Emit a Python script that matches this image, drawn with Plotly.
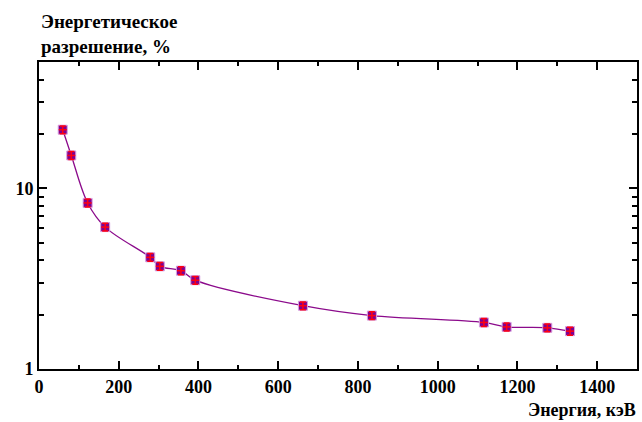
import plotly.graph_objects as go

energy_kev = [59.5, 81, 122, 166, 279, 303, 356, 392, 662, 835, 1116, 1173, 1275, 1332]
resolution_pct = [21.1, 15.2, 8.3, 6.1, 4.15, 3.70, 3.50, 3.10, 2.24, 1.975, 1.81, 1.71, 1.69, 1.62]

x_ticks = [0, 200, 400, 600, 800, 1000, 1200, 1400]
x_minor = [100, 300, 500, 700, 900, 1100, 1300]
y_ticks = [1, 10]
y_minor = [2, 3, 4, 5, 6, 7, 8, 9, 20, 30, 40]

font_family = "Times New Roman, 'Liberation Serif', serif"

fig = go.Figure()
fig.add_trace(go.Scatter(
    x=energy_kev, y=resolution_pct, mode="lines",
    line=dict(color="#8b0a8b", width=1.3, shape="spline", smoothing=1.0),
    hoverinfo="skip", showlegend=False,
))
fig.add_trace(go.Scatter(
    x=energy_kev, y=resolution_pct, mode="markers",
    marker=dict(symbol="square", size=9, color="#800090",
                line=dict(color="#d8a0e0", width=1)),
    showlegend=False,
))
fig.add_trace(go.Scatter(
    x=energy_kev, y=resolution_pct, mode="markers",
    marker=dict(size=1, color="rgba(0,0,0,0)"),
    error_y=dict(type="percent", value=5, color="#ff0010", thickness=1.5, width=3),
    error_x=dict(type="constant", value=10, color="#ff0010", thickness=1.5, width=0),
    hoverinfo="skip", showlegend=False,
))

axis_common = dict(
    showline=True, linecolor="black", linewidth=2, mirror="ticks",
    ticks="inside", tickcolor="black", tickwidth=1.5,
    showgrid=False, zeroline=False,
    tickfont=dict(family=font_family, size=18, color="black", weight="bold"),
)

fig.update_xaxes(
    range=[0, 1500], tickmode="array", tickvals=x_ticks,
    ticktext=[str(v) for v in x_ticks], ticklen=8,
    minor=dict(ticks="inside", ticklen=4, tickcolor="black", tickwidth=1.5,
               tickmode="array", tickvals=x_minor),
    **axis_common,
)
fig.update_yaxes(
    type="log", range=[0, 1.699], tickmode="array", tickvals=y_ticks,
    ticktext=[str(v) for v in y_ticks], ticklen=8,
    minor=dict(ticks="inside", ticklen=5, tickcolor="black", tickwidth=1.5,
               tickmode="array", tickvals=y_minor),
    **axis_common,
)

fig.update_layout(
    width=642, height=422,
    margin=dict(l=39, r=3, t=62, b=53),
    paper_bgcolor="white", plot_bgcolor="white",
    font=dict(family=font_family),
    annotations=[
        dict(text="<b>Энергетическое<br>разрешение, %</b>", xref="paper", yref="paper",
             x=0, y=1, xanchor="left", yanchor="bottom", yshift=3, align="left",
             showarrow=False, font=dict(family=font_family, size=19, color="black")),
        dict(text="<b>Энергия, кэВ</b>", xref="paper", yref="paper",
             x=1, y=0, xanchor="right", yanchor="top", yshift=-29, xshift=1,
             showarrow=False, font=dict(family=font_family, size=18, color="black")),
    ],
)

fig.write_html("out.html")
